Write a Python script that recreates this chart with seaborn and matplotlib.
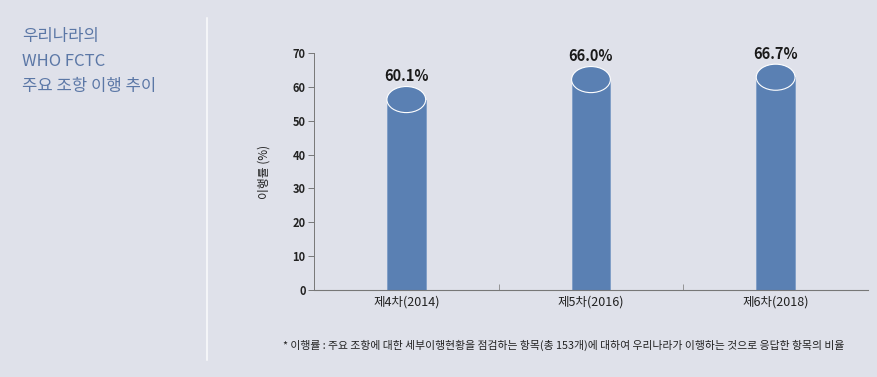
import matplotlib
matplotlib.use("Agg")
import matplotlib.pyplot as plt
from matplotlib.patches import Ellipse
import seaborn as sns
import pandas as pd

# data
rounds = ['제4차(2014)', '제5차(2016)', '제6차(2018)']
rates = [60.1, 66.0, 66.7]
value_labels = ['60.1%', '66.0%', '66.7%']
y_ticks = [0, 10, 20, 30, 40, 50, 60, 70]

bg = '#dfe1ea'
bar_color = '#5a80b3'
title_color = '#5b77a6'

sns.set_theme(style='white')
plt.rcParams['font.family'] = ['Noto Sans CJK KR', 'DejaVu Sans']

fig = plt.figure(figsize=(8.78, 3.77), dpi=100)
fig.patch.set_facecolor(bg)
ax = fig.add_axes([0.3576, 0.2308, 0.6310, 0.6286])
ax.set_facecolor(bg)

# cylinder: body (bar) + ellipse cap whose top sits on the value
cap_h = 7.7
bar_w = 0.21
df = pd.DataFrame({'round': rounds, 'body': [v - cap_h / 2 for v in rates]})
sns.barplot(data=df, x='round', y='body', color=bar_color, saturation=1,
            width=bar_w, edgecolor='#7d9cc6', linewidth=0.6, ax=ax, zorder=2)

for i, v in enumerate(rates):
    ax.add_patch(Ellipse((i, v - cap_h / 2), bar_w, cap_h, facecolor=bar_color,
                         edgecolor='white', linewidth=0.8, zorder=3, clip_on=False))
    ax.text(i, v + 0.7, value_labels[i], ha='center', va='bottom',
            fontsize=10.5, color='#1a1a1a', fontweight='bold')

ax.set_xlim(-0.5, 2.5)
ax.set_ylim(0, 70)
ax.set_yticks(y_ticks)
ax.set_yticklabels([str(t) for t in y_ticks], fontsize=8, color='#222222',
                   fontweight='bold')
ax.set_xticks([0.5, 1.5], minor=True)
ax.tick_params(axis='x', which='major', length=0, labelsize=9, colors='#222222', pad=4)
ax.tick_params(axis='x', which='minor', length=4, width=0.6, color='#888888',
               direction='in', bottom=True)
ax.tick_params(axis='y', length=4, width=0.6, color='#666666', direction='out',
               left=True, pad=2)
ax.set_xlabel('')
ax.set_ylabel('이행률 (%)', fontsize=8.5, color='#222222', labelpad=16)

for side in ['top', 'right']:
    ax.spines[side].set_visible(False)
ax.spines['left'].set_color('#777777')
ax.spines['left'].set_linewidth(0.7)
ax.spines['bottom'].set_color('#777777')
ax.spines['bottom'].set_linewidth(0.8)

# left title and divider
for text, ypx in [('우리나라의', 37), ('WHO FCTC', 62), ('주요 조항 이행 추이', 86)]:
    fig.text(22 / 878, 1 - ypx / 377, text, fontsize=12, color=title_color,
             va='center', ha='left', fontweight='medium')
fig.add_artist(plt.Line2D([207 / 878, 207 / 878], [1 - 18 / 377, 1 - 360 / 377],
                          color='#f4f5f8', linewidth=1.5))

fig.text(283 / 878, 1 - 345 / 377,
         '* 이행률 : 주요 조항에 대한 세부이행현황을 점검하는 항목(총 153개)에 대하여 우리나라가 이행하는 것으로 응답한 항목의 비율',
         fontsize=7.8, color='#222222', va='center', ha='left')

fig.savefig('out.png', dpi=100, facecolor=bg)
